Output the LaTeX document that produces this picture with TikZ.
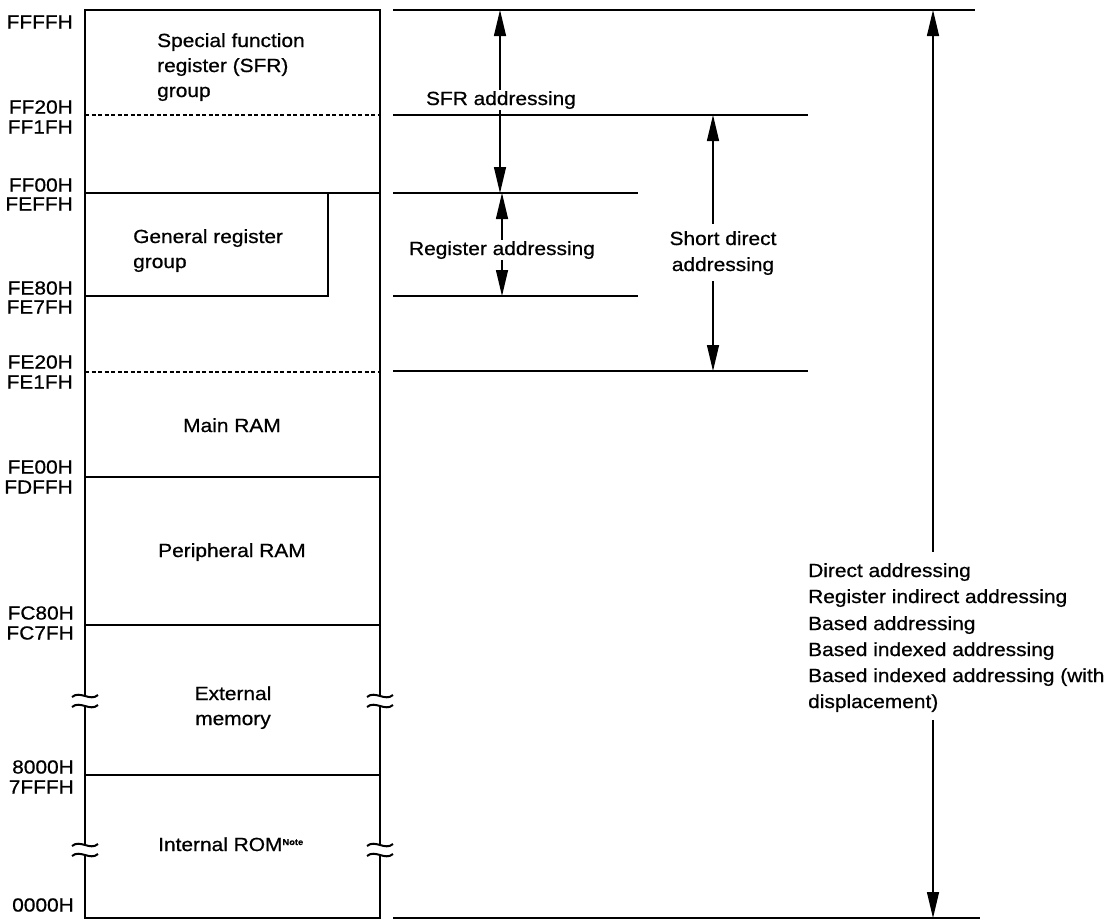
\documentclass[tikz,border=0pt]{standalone}
\usepackage{fontspec}
\setmainfont{Liberation Sans}[FakeStretch=1.1,FakeBold=0.7]
\usetikzlibrary{arrows.meta}
\begin{document}
\begin{tikzpicture}[x=1pt,y=-1pt,
  box/.style={line width=2.4pt},
  sep/.style={line width=1.6pt},
  dsep/.style={line width=1.3pt, dash pattern=on 4pt off 2.5pt},
  brk/.style={line width=2pt},
  rline/.style={line width=2pt},
  dimline/.style={line width=1.3pt},
  >={Triangle[length=26pt,width=12pt]},
  txt/.style={font=\fontsize{19}{25}\selectfont, inner sep=0pt},
  addr/.style={txt, anchor=east},
  lb/.style={txt, anchor=base west},
  cb/.style={txt, anchor=base},
]
\useasboundingbox (0,0) rectangle (1118,922);

% ---- memory map box ----
\draw[box] (85,696) -- (85,10) -- (380,10) -- (380,696);
\draw[box] (85,706) -- (85,845);
\draw[box] (380,706) -- (380,845);
\draw[box] (85,855) -- (85,918) -- (380,918) -- (380,855);
\foreach \bx in {85,380}
  \foreach \by in {696,706,845,855}
    \draw[brk] (\bx-13,\by+1) .. controls (\bx-5,\by-6) and (\bx+5,\by+6) .. (\bx+13,\by-1);

\draw[dsep] (85,115) -- (380,115);
\draw[sep] (85,193) -- (380,193);
\draw[sep] (85,296) -- (328,296) -- (328,193);
\draw[dsep] (85,372) -- (380,372);
\draw[sep] (85,477) -- (380,477);
\draw[sep] (85,625) -- (380,625);
\draw[sep] (85,775) -- (380,775);

% ---- addresses ----
\node[addr] (aFFFF) at (73,22) {FFFFH};
\node[addr] (aFF20) at (73,107) {FF20H};
\node[addr] (aFF1F) at (73,127) {FF1FH};
\node[addr] (aFF00) at (73,185) {FF00H};
\node[addr] (aFEFF) at (73,204) {FEFFH};
\node[addr] (aFE80) at (73,288) {FE80H};
\node[addr] (aFE7F) at (73,307) {FE7FH};
\node[addr] (aFE20) at (73,362) {FE20H};
\node[addr] (aFE1F) at (73,382) {FE1FH};
\node[addr] (aFE00) at (73,467) {FE00H};
\node[addr] (aFDFF) at (73,487) {FDFFH};
\node[addr] (aFC80) at (74,613) {FC80H};
\node[addr] (aFC7F) at (74,633) {FC7FH};
\node[addr] (a8000) at (74,767) {8000H};
\node[addr] (a7FFF) at (74,787) {7FFFH};
\node[addr] (a0000) at (74,905) {0000H};

% ---- block texts ----
\node[lb] (sfr1) at (157,47) {Special function};
\node[lb] (sfr2) at (157,72) {register (SFR)};
\node[lb] (sfr3) at (157,97) {group};
\node[lb] (gr1) at (133,243) {General register};
\node[lb] (gr2) at (133,268) {group};
\node[cb] (mram) at (232,432) {Main RAM};
\node[cb] (pram) at (232,557) {Peripheral RAM};
\node[cb] (ext1) at (233,700) {External};
\node[cb] (ext2) at (233,725) {memory};
\node[lb] (rom) at (158,851) {Internal ROM\raisebox{6pt}{\fontsize{8.5}{8.5}\selectfont\bfseries Note}};

% ---- right reference lines ----
\coordinate (t0) at (393,10);   \coordinate (t1) at (975,10);
\coordinate (s0) at (393,115);  \coordinate (s1) at (808,115);
\coordinate (g0) at (393,193);  \coordinate (g1) at (638,193);
\coordinate (h0) at (393,296);  \coordinate (h1) at (638,296);
\coordinate (d0) at (393,371);  \coordinate (d1) at (808,371);
\coordinate (b0) at (393,918);  \coordinate (b1) at (980,918);

% SFR addressing
\coordinate (sfrA) at (500,10); \coordinate (sfrB) at (500,193);
\draw[dimline,<->] (sfrA) -- (sfrB);
\node[cb, fill=white, inner sep=1.5pt] (sfrl) at (501,105) {SFR addressing};
% Register addressing
\coordinate (regA) at (502,193); \coordinate (regB) at (502,296);
\draw[dimline,<->] (regA) -- (regB);
\node[cb, fill=white, inner sep=1.5pt] (regl) at (502,255) {Register addressing};
% Short direct addressing
\coordinate (sdA) at (713,115); \coordinate (sdA2) at (713,224);
\coordinate (sdB2) at (713,281); \coordinate (sdB) at (713,371);
\draw[dimline,<-] (sdA) -- (sdA2);
\draw[dimline,->] (sdB2) -- (sdB);
\node[cb] (sd1) at (723,245) {Short direct};
\node[cb] (sd2) at (723,271) {addressing};
% Direct etc.
\coordinate (bgA) at (933,10); \coordinate (bgA2) at (933,552);
\coordinate (bgB2) at (933,720); \coordinate (bgB) at (933,918);
\draw[dimline,<-] (bgA) -- (bgA2);
\draw[dimline,->] (bgB2) -- (bgB);
\node[lb] (r1) at (808,577) {Direct addressing};
\node[lb] (r2) at (808,603) {Register indirect addressing};
\node[lb] (r3) at (808,630) {Based addressing};
\node[lb] (r4) at (808,656) {Based indexed addressing};
\node[lb] (r5) at (808,682) {Based indexed addressing (with};
\node[lb] (r6) at (808,708) {displacement)};

\draw[rline] (t0) -- (t1);
\draw[rline] (s0) -- (s1);
\draw[rline] (g0) -- (g1);
\draw[rline] (h0) -- (h1);
\draw[rline] (d0) -- (d1);
\draw[rline] (b0) -- (b1);
\end{tikzpicture}
\end{document}
